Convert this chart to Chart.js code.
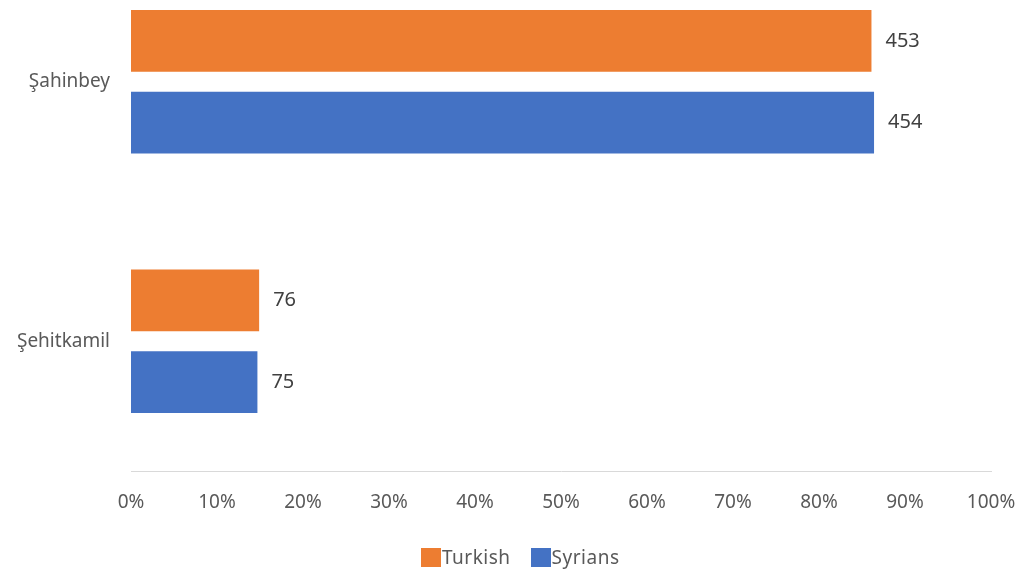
<!DOCTYPE html>
<html>
<head>
<meta charset="utf-8">
<script src="https://cdn.jsdelivr.net/npm/chart.js@4"></script>
<style>
    html, body { margin: 0; padding: 0; background: #fff; overflow: hidden; }
    #wrap { position: relative; width: 1021px; height: 572px; overflow: hidden; }
    #box { position: absolute; left: 0; top: -48px; width: 1021px; height: 620px; }
    #legend {
        position: absolute; left: 421px; top: 546px; height: 22px;
        display: flex; align-items: center;
        font-family: "Noto Sans", sans-serif; font-size: 19px; color: #595959; letter-spacing: 0.5px;
    }
    #legend .item { display: flex; align-items: center; margin-right: 20px; }
    #legend .sw { width: 20px; height: 19px; margin-right: 1px; }
</style>
</head>
<body>
<div id="wrap">
    <div id="box"><canvas id="chart"></canvas></div>
    <div id="legend"></div>
</div>
<script>
// Dados
const categorias = ['Şahinbey', 'Şehitkamil'];
const turkishPct = [86.1, 14.9];
const syriansPct = [86.4, 14.7];
const turkishCount = [453, 76];
const syriansCount = [454, 75];
const xTicks = [0, 10, 20, 30, 40, 50, 60, 70, 80, 90, 100];

const corLaranja = '#ED7D31';
const corAzul = '#4472C4';
const fonte = '"Noto Sans", sans-serif';

// Rótulos de quantidade à direita das barras
const rotulosPlugin = {
    id: 'rotulos',
    afterDatasetsDraw(chart) {
        const ctx = chart.ctx;
        ctx.save();
        ctx.font = '20px ' + fonte;
        ctx.fillStyle = '#404040';
        ctx.textAlign = 'left';
        ctx.textBaseline = 'middle';
        chart.data.datasets.forEach((ds, i) => {
            chart.getDatasetMeta(i).data.forEach((bar, j) => {
                ctx.fillText(String(ds.counts[j]), bar.x + 14, bar.y);
            });
        });
        ctx.restore();
    }
};

// Zera os paddings automáticos das escalas
function semPadding(scale) {
    scale.paddingLeft = 0;
    scale.paddingRight = 0;
    scale.paddingTop = 0;
    scale.paddingBottom = 0;
}

const ctx = document.getElementById('chart').getContext('2d');
const chart = new Chart(ctx, {
    type: 'bar',
    data: {
        labels: categorias,
        datasets: [
            { label: 'Turkish', data: turkishPct, counts: turkishCount, backgroundColor: corLaranja },
            { label: 'Syrians', data: syriansPct, counts: syriansCount, backgroundColor: corAzul }
        ]
    },
    options: {
        indexAxis: 'y',
        responsive: true,
        maintainAspectRatio: false,
        animation: false,
        categoryPercentage: 0.63,
        barPercentage: 0.756,
        layout: { padding: { left: 0, right: 30, top: 0, bottom: 0 } },
        plugins: {
            legend: { display: false },
            tooltip: { enabled: false }
        },
        scales: {
            x: {
                min: 0,
                max: 100,
                afterBuildTicks: scale => { scale.ticks = xTicks.map(v => ({ value: v })); },
                afterFit: scale => { scale.height = 101; semPadding(scale); },
                grid: { display: false, drawTicks: false },
                border: { display: true, color: '#d9d9d9', width: 1 },
                ticks: {
                    padding: 20,
                    maxRotation: 0,
                    autoSkip: false,
                    color: '#595959',
                    font: { family: fonte, size: 19 },
                    callback: v => v + '%'
                }
            },
            y: {
                afterFit: scale => { scale.width = 131; semPadding(scale); },
                grid: { display: false, drawTicks: false },
                border: { display: false },
                ticks: {
                    padding: 21,
                    color: '#595959',
                    font: { family: fonte, size: 19 }
                }
            }
        }
    },
    plugins: [rotulosPlugin]
});

// Legenda em HTML
const legenda = document.getElementById('legend');
chart.data.datasets.forEach(ds => {
    const item = document.createElement('div');
    item.className = 'item';
    item.innerHTML = `<span class="sw" style="background:${ds.backgroundColor}"></span><span>${ds.label}</span>`;
    legenda.appendChild(item);
});
</script>
</body>
</html>
